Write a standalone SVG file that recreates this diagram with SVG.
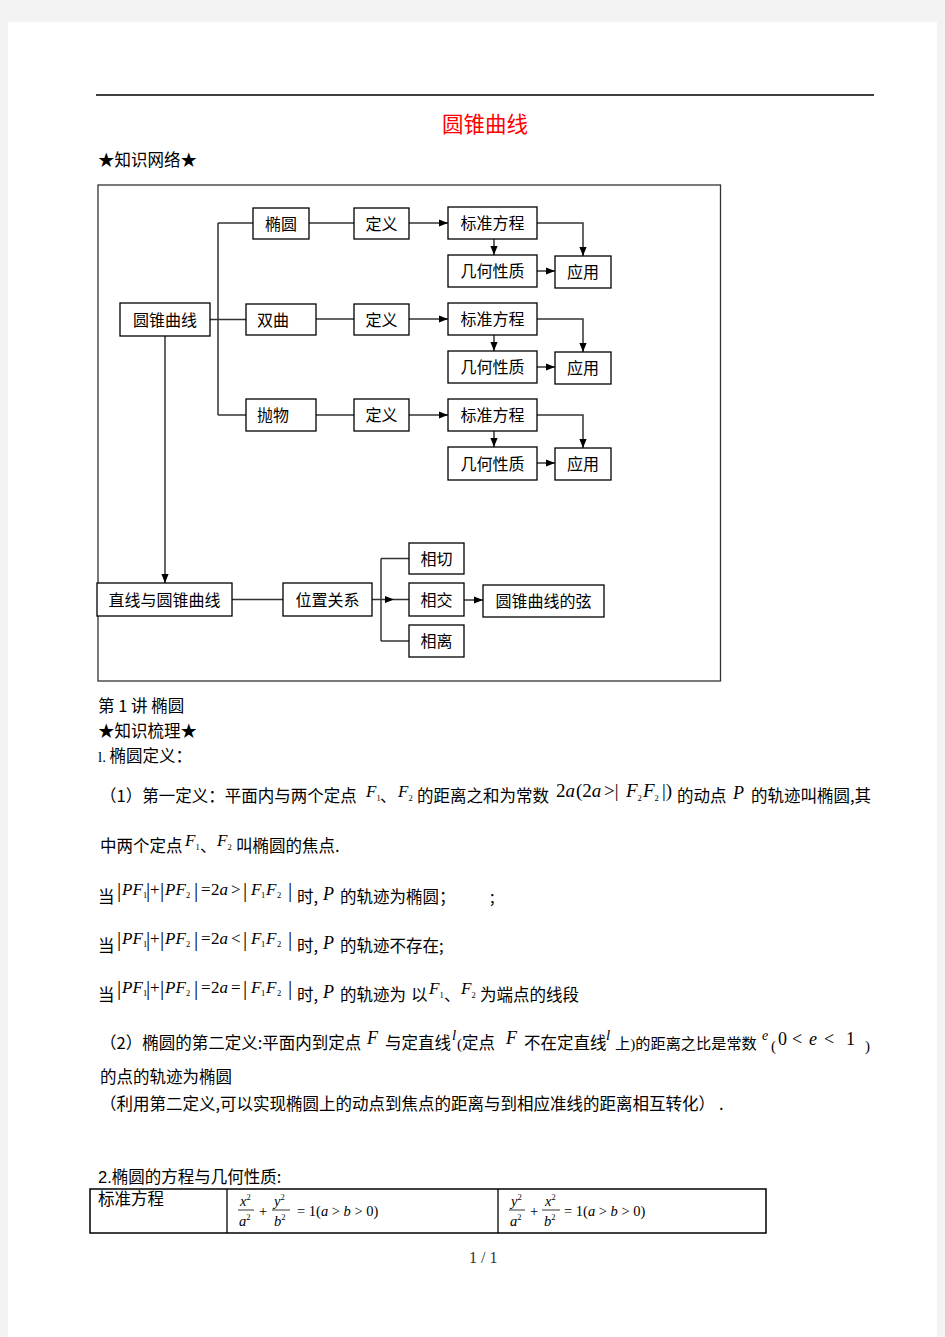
<svg xmlns="http://www.w3.org/2000/svg" width="945" height="1337" viewBox="0 0 945 1337">
<style>
.cjk{font-family:"Noto Sans CJK SC","Noto Sans",sans-serif;font-size:16.5px;fill:#000}
.lbl{font-family:"Noto Sans CJK SC","Noto Sans",sans-serif;font-size:16px;fill:#000;text-anchor:middle}
.box{fill:#fff;stroke:#000;stroke-width:1.3}
.ln{fill:none;stroke:#333;stroke-width:1.5}
.ar{marker-end:url(#ah)}
.m{font-family:"Liberation Serif",serif;font-size:17px;fill:#000}
.i{font-style:italic}
.bar{font-family:"Liberation Serif",serif;font-size:21px;fill:#000}
.t{font-family:"Liberation Serif",serif;font-size:14.5px;fill:#000}
.s{font-size:8.5px}
</style>
<defs>
<marker id="ah" viewBox="0 0 10 10" refX="10" refY="5" markerWidth="9" markerHeight="9" markerUnits="userSpaceOnUse" orient="auto"><path d="M0,1 L10,5 L0,9 z" fill="#000"/></marker>
</defs>
<rect x="0" y="0" width="945" height="1337" fill="#f3f3f3"/>
<rect x="8" y="22" width="929" height="1315" fill="#fff"/>
<line x1="96" y1="95" x2="874" y2="95" stroke="#000" stroke-width="1.3"/>
<text x="442" y="132" font-family="'Noto Sans CJK SC',sans-serif" font-size="21.5" fill="#ff0000">圆锥曲线</text>
<text class="cjk" x="98" y="166">★知识网络★</text>
<rect x="98" y="185" width="622.5" height="496" fill="none" stroke="#333" stroke-width="1.3"/>

<g id="connectors">
<path class="ln" d="M218,223 V415 M218,223 H253 M210,319.5 H246 M218,415 H246"/>
<path class="ln ar" d="M165,336 V583"/>
<path class="ln" d="M309,223 H354 M316,319 H354 M316,415 H354"/>
<path class="ln ar" d="M409,223 H448"/>
<path class="ln ar" d="M494,239 V255"/>
<path class="ln ar" d="M537,223 H583 V256"/>
<path class="ln ar" d="M537,271 H555"/>
<path class="ln ar" d="M409,319 H448"/>
<path class="ln ar" d="M494,335 V351"/>
<path class="ln ar" d="M537,319 H583 V352"/>
<path class="ln ar" d="M537,367 H555"/>
<path class="ln ar" d="M409,415 H448"/>
<path class="ln ar" d="M494,431 V447"/>
<path class="ln ar" d="M537,415 H583 V448"/>
<path class="ln ar" d="M537,463 H555"/>
<path class="ln" d="M232,599.5 H283"/>
<path class="ln ar" d="M372,599.5 H394"/>
<path class="ln" d="M394,599.5 H409 M381,558.5 V641 M381,558.5 H409 M381,641 H409"/>
<path class="ln ar" d="M464,600 H483"/>
</g>

<g id="n-yuanzhui"><rect class="box" x="120" y="303" width="90" height="33"/><text class="lbl" x="165" y="326">圆锥曲线</text></g>
<g id="n-tuoyuan"><rect class="box" x="253" y="208" width="56" height="31"/><text class="lbl" x="281" y="229.5">椭圆</text></g>
<g id="n-shuangqu"><rect class="box" x="246" y="304" width="70" height="31"/><text class="lbl" x="273" y="325.5">双曲</text></g>
<g id="n-paowu"><rect class="box" x="246" y="399" width="70" height="32"/><text class="lbl" x="273" y="421">抛物</text></g>

<g id="n-dingyi1"><rect class="box" x="354" y="208" width="55" height="31"/><text class="lbl" x="381.5" y="229.5">定义</text></g>
<g id="n-biaozhun1"><rect class="box" x="448" y="207" width="89" height="32"/><text class="lbl" x="492.5" y="229">标准方程</text></g>
<g id="n-jihe1"><rect class="box" x="448" y="255" width="89" height="32"/><text class="lbl" x="492.5" y="277">几何性质</text></g>
<g id="n-yingyong1"><rect class="box" x="555" y="256" width="56" height="32"/><text class="lbl" x="583" y="278">应用</text></g>

<g id="n-dingyi2"><rect class="box" x="354" y="304" width="55" height="31"/><text class="lbl" x="381.5" y="325.5">定义</text></g>
<g id="n-biaozhun2"><rect class="box" x="448" y="303" width="89" height="32"/><text class="lbl" x="492.5" y="325">标准方程</text></g>
<g id="n-jihe2"><rect class="box" x="448" y="351" width="89" height="32"/><text class="lbl" x="492.5" y="373">几何性质</text></g>
<g id="n-yingyong2"><rect class="box" x="555" y="352" width="56" height="32"/><text class="lbl" x="583" y="374">应用</text></g>

<g id="n-dingyi3"><rect class="box" x="354" y="399" width="55" height="32"/><text class="lbl" x="381.5" y="421">定义</text></g>
<g id="n-biaozhun3"><rect class="box" x="448" y="399" width="89" height="32"/><text class="lbl" x="492.5" y="421">标准方程</text></g>
<g id="n-jihe3"><rect class="box" x="448" y="447" width="89" height="33"/><text class="lbl" x="492.5" y="469.5">几何性质</text></g>
<g id="n-yingyong3"><rect class="box" x="555" y="448" width="56" height="32"/><text class="lbl" x="583" y="470">应用</text></g>

<g id="n-zhixian"><rect class="box" x="97" y="583" width="135" height="33"/><text class="lbl" x="164.5" y="605.5">直线与圆锥曲线</text></g>
<g id="n-weizhi"><rect class="box" x="283" y="583" width="89" height="33"/><text class="lbl" x="327.5" y="605.5">位置关系</text></g>
<g id="n-xiangqie"><rect class="box" x="409" y="543" width="55" height="31"/><text class="lbl" x="436.5" y="564.5">相切</text></g>
<g id="n-xiangjiao"><rect class="box" x="409" y="583" width="55" height="33"/><text class="lbl" x="436.5" y="605.5">相交</text></g>
<g id="n-xiangli"><rect class="box" x="409" y="625" width="55" height="32"/><text class="lbl" x="436.5" y="647">相离</text></g>
<g id="n-xian"><rect class="box" x="483" y="585" width="121" height="32"/><text class="lbl" x="543.5" y="607">圆锥曲线的弦</text></g>

<text class="cjk" x="98" y="712">第 1 讲 椭圆</text>
<text class="cjk" x="98" y="737">★知识梳理★</text>
<text class="cjk" x="98" y="762"><tspan font-family="Liberation Serif" font-size="15">l.</tspan> 椭圆定义：</text>

<text class="cjk" x="100" y="802">（1）第一定义：平面内与两个定点</text>
<text class="m i" x="366" y="797">F<tspan class="s" font-style="normal" dy="4">1</tspan></text>
<text class="cjk" x="380" y="802">、</text>
<text class="m i" x="398" y="797">F<tspan class="s" font-style="normal" dy="4">2</tspan></text>
<text class="cjk" x="417" y="802">的距离之和为常数</text>
<text class="m" y="797" style="font-size:19px"><tspan x="556">2</tspan><tspan class="i">a</tspan><tspan x="576">(2</tspan><tspan class="i">a</tspan><tspan x="604">&gt;|</tspan><tspan class="i" x="626">F</tspan><tspan class="s" dy="4">2</tspan><tspan class="i" x="643" dy="-4">F</tspan><tspan class="s" dy="4">2</tspan><tspan x="662" dy="-4">|)</tspan></text>
<text class="cjk" x="677" y="802">的动点</text>
<text class="m i" x="733" y="799" style="font-size:18px">P</text>
<text class="cjk" x="751" y="802">的轨迹叫椭圆,其</text>

<text class="cjk" x="100" y="852">中两个定点</text>
<text class="m i" x="185" y="846">F<tspan class="s" font-style="normal" dy="4">1</tspan></text>
<text class="cjk" x="200" y="852">、</text>
<text class="m i" x="217" y="846">F<tspan class="s" font-style="normal" dy="4">2</tspan></text>
<text class="cjk" x="236" y="852">叫椭圆的焦点.</text>

<g id="row-a">
<text class="cjk" x="98" y="903">当</text>
<text class="bar" y="897"><tspan x="117">|</tspan><tspan x="146">|</tspan><tspan x="160">|</tspan><tspan x="194">|</tspan><tspan x="243">|</tspan><tspan x="288">|</tspan></text>
<text class="m" y="895"><tspan class="i" x="122">PF</tspan><tspan x="143" class="s" dy="3">1</tspan><tspan x="150" dy="-3">+</tspan><tspan class="i" x="165">PF</tspan><tspan x="186" class="s" dy="3">2</tspan><tspan x="201" dy="-3">=</tspan><tspan x="211">2</tspan><tspan class="i">a</tspan><tspan x="231">&gt;</tspan><tspan class="i" x="251">F</tspan><tspan x="261" class="s" dy="3">1</tspan><tspan class="i" x="266" dy="-3">F</tspan><tspan x="277" class="s" dy="3">2</tspan></text>
<text class="cjk" x="297" y="903">时,</text>
<text class="m i" x="323" y="900" style="font-size:18px">P</text>
<text class="cjk" x="340" y="903">的轨迹为椭圆；</text>
<text class="cjk" x="490" y="903" fill="#666">;</text>
</g>
<g id="row-b">
<text class="cjk" x="98" y="952">当</text>
<text class="bar" y="946"><tspan x="117">|</tspan><tspan x="146">|</tspan><tspan x="160">|</tspan><tspan x="194">|</tspan><tspan x="243">|</tspan><tspan x="288">|</tspan></text>
<text class="m" y="944"><tspan class="i" x="122">PF</tspan><tspan x="143" class="s" dy="3">1</tspan><tspan x="150" dy="-3">+</tspan><tspan class="i" x="165">PF</tspan><tspan x="186" class="s" dy="3">2</tspan><tspan x="201" dy="-3">=</tspan><tspan x="211">2</tspan><tspan class="i">a</tspan><tspan x="231">&lt;</tspan><tspan class="i" x="251">F</tspan><tspan x="261" class="s" dy="3">1</tspan><tspan class="i" x="266" dy="-3">F</tspan><tspan x="277" class="s" dy="3">2</tspan></text>
<text class="cjk" x="297" y="952">时,</text>
<text class="m i" x="323" y="949" style="font-size:18px">P</text>
<text class="cjk" x="340" y="952">的轨迹不存在;</text>
</g>
<g id="row-c">
<text class="cjk" x="98" y="1001">当</text>
<text class="bar" y="995"><tspan x="117">|</tspan><tspan x="146">|</tspan><tspan x="160">|</tspan><tspan x="194">|</tspan><tspan x="243">|</tspan><tspan x="288">|</tspan></text>
<text class="m" y="993"><tspan class="i" x="122">PF</tspan><tspan x="143" class="s" dy="3">1</tspan><tspan x="150" dy="-3">+</tspan><tspan class="i" x="165">PF</tspan><tspan x="186" class="s" dy="3">2</tspan><tspan x="201" dy="-3">=</tspan><tspan x="211">2</tspan><tspan class="i">a</tspan><tspan x="231">=</tspan><tspan class="i" x="251">F</tspan><tspan x="261" class="s" dy="3">1</tspan><tspan class="i" x="266" dy="-3">F</tspan><tspan x="277" class="s" dy="3">2</tspan></text>
<text class="cjk" x="297" y="1001">时,</text>
<text class="m i" x="323" y="998" style="font-size:18px">P</text>
<text class="cjk" x="340" y="1001">的轨迹为</text>
<text class="cjk" x="411" y="1001">以</text>
<text class="m i" x="429" y="994">F<tspan class="s" font-style="normal" dy="4">1</tspan></text>
<text class="cjk" x="444" y="1001">、</text>
<text class="m i" x="461" y="994">F<tspan class="s" font-style="normal" dy="4">2</tspan></text>
<text class="cjk" x="480" y="1001">为端点的线段</text>
</g>

<text class="cjk" x="100" y="1049">（2）椭圆的第二定义:平面内到定点</text>
<text class="m i" x="367" y="1044" style="font-size:18px">F</text>
<text class="cjk" x="385" y="1049">与定直线</text>
<text class="m i" x="452" y="1040" style="font-size:15px">l</text>
<text class="cjk" x="457" y="1049"><tspan font-family="Liberation Serif" font-size="15">(</tspan>定点</text>
<text class="m i" x="506" y="1044" style="font-size:18px">F</text>
<text class="cjk" x="524" y="1049">不在定直线</text>
<text class="m i" x="606" y="1040" style="font-size:15px">l</text>
<text class="cjk" x="615" y="1049" style="font-size:15.2px">上<tspan font-family="Liberation Serif">)</tspan>的距离之比是常数</text>
<text class="m i" x="762" y="1040" style="font-size:14px">e</text>
<text class="m" x="771" y="1051" style="font-size:15px">(</text>
<text class="m" y="1045" style="font-size:18px"><tspan x="778">0</tspan><tspan x="792">&lt;</tspan><tspan class="i" x="809">e</tspan><tspan x="824">&lt;</tspan><tspan x="846">1</tspan></text>
<text class="m" x="865" y="1051" style="font-size:15px">)</text>
<text class="cjk" x="100" y="1083">的点的轨迹为椭圆</text>
<text class="cjk" x="100" y="1110">（利用第二定义,可以实现椭圆上的动点到焦点的距离与到相应准线的距离相互转化）<tspan x="719">.</tspan></text>

<text class="cjk" x="98" y="1183"><tspan font-family="Liberation Sans">2.</tspan>椭圆的方程与几何性质:</text>
<g id="table">
<rect x="90" y="1189" width="676" height="44" fill="none" stroke="#000" stroke-width="1.5"/>
<line x1="227" y1="1189" x2="227" y2="1233" stroke="#000" stroke-width="1.3"/>
<line x1="498" y1="1189" x2="498" y2="1233" stroke="#000" stroke-width="1.3"/>
<text class="cjk" x="98" y="1205">标准方程</text>
<g stroke="#000" stroke-width="0.8">
<line x1="238" y1="1210" x2="254" y2="1210"/><line x1="272" y1="1210" x2="290" y2="1210"/>
<line x1="509" y1="1210" x2="525" y2="1210"/><line x1="542" y1="1210" x2="560" y2="1210"/>
</g>
<text class="t i" x="240" y="1206">x<tspan class="s" font-style="normal" dy="-6">2</tspan></text>
<text class="t i" x="239" y="1226">a<tspan class="s" font-style="normal" dy="-6">2</tspan></text>
<text class="t" x="259" y="1216">+</text>
<text class="t i" x="274" y="1206">y<tspan class="s" font-style="normal" dy="-6">2</tspan></text>
<text class="t i" x="274" y="1226">b<tspan class="s" font-style="normal" dy="-6">2</tspan></text>
<text class="t" x="297" y="1216">= 1(<tspan class="i">a</tspan> &gt; <tspan class="i">b</tspan> &gt; 0)</text>
<text class="t i" x="511" y="1206">y<tspan class="s" font-style="normal" dy="-6">2</tspan></text>
<text class="t i" x="510" y="1226">a<tspan class="s" font-style="normal" dy="-6">2</tspan></text>
<text class="t" x="530" y="1216">+</text>
<text class="t i" x="545" y="1206">x<tspan class="s" font-style="normal" dy="-6">2</tspan></text>
<text class="t i" x="544" y="1226">b<tspan class="s" font-style="normal" dy="-6">2</tspan></text>
<text class="t" x="564" y="1216">= 1(<tspan class="i">a</tspan> &gt; <tspan class="i">b</tspan> &gt; 0)</text>
</g>
<text x="469" y="1263" font-family="'Liberation Serif',serif" font-size="16" fill="#333">1 / 1</text>
</svg>
